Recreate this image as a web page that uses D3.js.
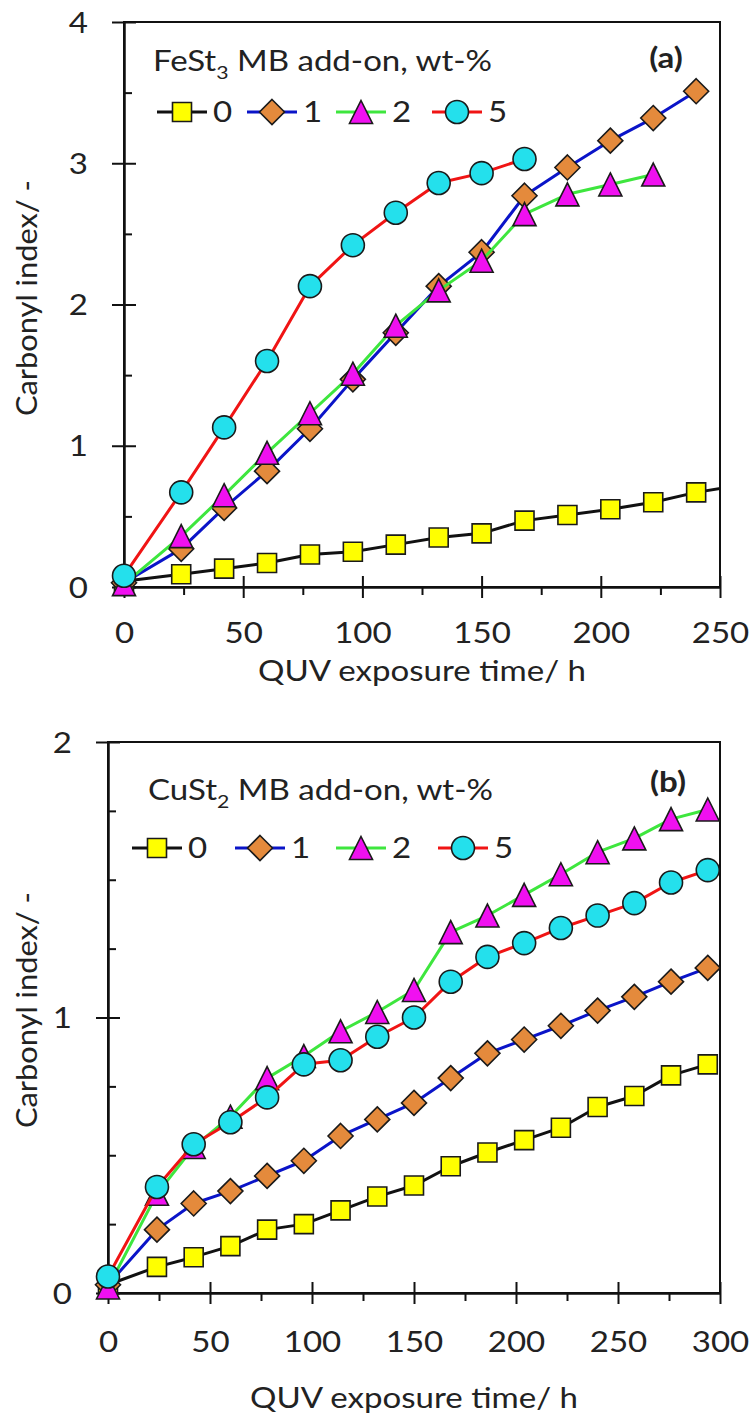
<!DOCTYPE html>
<html>
<head>
<meta charset="utf-8">
<script src="https://cdn.jsdelivr.net/npm/d3@7"></script>
<style>
  body { margin: 0; background: #fff; }
  svg text { font-family: Lato, "Open Sans", sans-serif; fill: #222; }
</style>
</head>
<body>
<svg id="chart" width="754" height="1416"></svg>
<script>
// panel (a): FeSt3 masterbatch
let feTime = [0, 24, 42, 60, 78, 96, 114, 132, 150, 168, 186, 204, 222, 240, 258];
let fe0 = [0.04, 0.09, 0.13, 0.17, 0.23, 0.25, 0.30, 0.35, 0.38, 0.47, 0.51, 0.55, 0.60, 0.67, 0.72];
let fe1 = [0.03, 0.27, 0.56, 0.82, 1.12, 1.47, 1.80, 2.13, 2.37, 2.77, 2.97, 3.16, 3.32, 3.51];
let fe2 = [0.02, 0.36, 0.65, 0.95, 1.23, 1.51, 1.85, 2.10, 2.31, 2.64, 2.78, 2.85, 2.92];
let fe5 = [0.08, 0.67, 1.13, 1.60, 2.13, 2.42, 2.65, 2.86, 2.93, 3.03];

// panel (b): CuSt2 masterbatch
let cuTime = [0, 24, 42, 60, 78, 96, 114, 132, 150, 168, 186, 204, 222, 240, 258, 276, 294];
let cu0 = [0.03, 0.095, 0.13, 0.17, 0.23, 0.25, 0.30, 0.35, 0.39, 0.46, 0.51, 0.555, 0.60, 0.675, 0.715, 0.79, 0.83];
let cu1 = [0.03, 0.23, 0.325, 0.37, 0.425, 0.48, 0.57, 0.63, 0.69, 0.78, 0.87, 0.92, 0.97, 1.025, 1.075, 1.13, 1.18];
let cu2 = [0.02, 0.36, 0.53, 0.64, 0.78, 0.86, 0.95, 1.02, 1.10, 1.31, 1.37, 1.445, 1.52, 1.60, 1.65, 1.72, 1.755];
let cu5 = [0.06, 0.385, 0.54, 0.62, 0.71, 0.83, 0.845, 0.93, 1.00, 1.13, 1.22, 1.27, 1.325, 1.37, 1.415, 1.49, 1.535];

let seriesNames = ['0', '1', '2', '5'];
let feTicksX = [0, 50, 100, 150, 200, 250];
let feTicksY = [0, 1, 2, 3, 4];
let cuTicksX = [0, 50, 100, 150, 200, 250, 300];
let cuTicksY = [0, 1, 2];

let lineColors = ['#111111', '#0a14c8', '#3ee63e', '#f01414'];
let fillColors = ['#ffff00', '#e48a3c', '#f010f0', '#24e0ec'];
let shapes = ['square', 'diamond', 'triangle', 'circle'];

let SX = 1.18;   // reference text is a bit wider than Lato
let FS = 28;

let svg = d3.select('#chart');

let markerPath = (shape) => {
  if (shape === 'square') return 'M-9.5,-9.5H9.5V9.5H-9.5Z';
  if (shape === 'diamond') return 'M0,-12.5L12.5,0L0,12.5L-12.5,0Z';
  if (shape === 'triangle') return 'M0,-11.5L11.5,11.5L-11.5,11.5Z';
  return d3.symbol(d3.symbolCircle, Math.PI * 11.5 * 11.5)();
};

let addText = (g, x, y, str, anchor, size, weight) => {
  return g.append('text')
    .attr('transform', `translate(${x},${y}) scale(${SX},1)`)
    .attr('text-anchor', anchor || 'start')
    .style('font-size', (size || FS) + 'px')
    .style('font-weight', weight || 'normal')
    .text(str);
};

let drawPanel = (cfg) => {
  let g = svg.append('g');
  let xScale = d3.scaleLinear().domain(cfg.xDomain).range([cfg.left, cfg.right]);
  let yScale = d3.scaleLinear().domain(cfg.yDomain).range([cfg.bottom, cfg.top]);

  // frame
  g.append('rect')
    .attr('x', cfg.left).attr('y', cfg.top)
    .attr('width', cfg.right - cfg.left).attr('height', cfg.bottom - cfg.top)
    .attr('fill', 'none').attr('stroke', '#111').attr('stroke-width', 2);

  // minor ticks
  let xMinor = d3.range(cfg.xDomain[0], cfg.xDomain[1] + 0.01, cfg.xMinorStep).filter(v => !cfg.xTicks.includes(v));
  let yMinor = d3.range(cfg.yDomain[0], cfg.yDomain[1] + 0.001, cfg.yMinorStep).filter(v => !cfg.yTicks.includes(v));

  g.append('g')
    .attr('transform', `translate(0,${cfg.bottom})`)
    .call(d3.axisBottom(xScale).tickValues(xMinor).tickSize(8).tickFormat(''))
    .call(a => a.select('.domain').remove());
  g.append('g')
    .attr('transform', `translate(${cfg.left},0)`)
    .call(d3.axisLeft(yScale).tickValues(yMinor).tickSize(-8).tickFormat(''))
    .call(a => a.select('.domain').remove());

  // major ticks, inner half
  g.append('g')
    .attr('transform', `translate(0,${cfg.bottom})`)
    .call(d3.axisBottom(xScale).tickValues(cfg.xTicks).tickSize(-11).tickFormat(''))
    .call(a => a.select('.domain').remove());
  g.append('g')
    .attr('transform', `translate(${cfg.left},0)`)
    .call(d3.axisLeft(yScale).tickValues(cfg.yTicks).tickSize(-12).tickFormat(''))
    .call(a => a.select('.domain').remove());

  // main axes with labels
  let xAxisG = g.append('g')
    .attr('transform', `translate(0,${cfg.bottom})`)
    .call(d3.axisBottom(xScale).tickValues(cfg.xTicks).tickSize(11).tickSizeOuter(0).tickFormat(d3.format('d')));
  xAxisG.selectAll('text')
    .attr('y', cfg.xLabelOffset).attr('dy', 0)
    .attr('transform', `scale(${SX},1)`)
    .style('font-size', FS + 'px');

  let yAxisG = g.append('g')
    .attr('transform', `translate(${cfg.left},0)`)
    .call(d3.axisLeft(yScale).tickValues(cfg.yTicks).tickSize(12).tickSizeOuter(0).tickFormat(d3.format('d')));
  yAxisG.selectAll('text')
    .attr('x', -36 / SX).attr('dy', '0.36em')
    .attr('transform', `scale(${SX},1)`)
    .style('font-size', FS + 'px');

  g.selectAll('.tick line').attr('stroke', '#111').attr('stroke-width', 2);
  g.selectAll('.domain').attr('stroke', '#111').attr('stroke-width', 2.5);

  // axis titles
  addText(g, (cfg.left + cfg.right) / 2, cfg.xTitleY, 'QUV exposure time/ h', 'middle');
  g.append('text')
    .attr('transform', `translate(37,${cfg.yTitleY}) rotate(-90) scale(1.1,1)`)
    .attr('text-anchor', 'middle')
    .style('font-size', FS + 'px')
    .text('Carbonyl index/ -');

  // series
  let clipId = 'clip-' + cfg.id;
  svg.append('clipPath').attr('id', clipId)
    .append('rect')
    .attr('x', cfg.left - 30).attr('y', cfg.top - 30)
    .attr('width', cfg.right - cfg.left + 30).attr('height', cfg.bottom - cfg.top + 60);

  let plot = g.append('g').attr('clip-path', `url(#${clipId})`);
  let line = d3.line().x(d => xScale(d[0])).y(d => yScale(d[1]));

  cfg.series.forEach((vals, i) => {
    let pts = vals.map((v, k) => [cfg.time[k], v]);
    plot.append('path')
      .datum(pts)
      .attr('d', line)
      .attr('fill', 'none')
      .attr('stroke', lineColors[i])
      .attr('stroke-width', 3)
      .attr('stroke-linejoin', 'round');
    plot.selectAll('.m' + i)
      .data(pts)
      .enter()
      .append('path')
      .attr('class', 'm' + i)
      .attr('d', markerPath(shapes[i]))
      .attr('transform', d => `translate(${xScale(d[0])},${yScale(d[1])})`)
      .attr('fill', fillColors[i])
      .attr('stroke', '#1a1a1a')
      .attr('stroke-width', 1.6);
  });

  // legend
  let title = g.append('text')
    .attr('transform', `translate(${cfg.legTitleX},${cfg.legTitleY}) scale(${SX},1)`)
    .style('font-size', FS + 'px');
  title.append('tspan').text(cfg.metal[0]);
  title.append('tspan').text(cfg.metal[1]).attr('dy', 8).style('font-size', '18px');
  title.append('tspan').text(' MB add-on, wt-%').attr('dy', -8);

  addText(g, cfg.tagX, cfg.tagY, cfg.tag, 'middle', FS, 'bold');

  seriesNames.forEach((name, i) => {
    let cx = cfg.legCenters[i];
    let cy = cfg.legY;
    g.append('line')
      .attr('x1', cx - 25).attr('x2', cx + 25)
      .attr('y1', cy).attr('y2', cy)
      .attr('stroke', lineColors[i]).attr('stroke-width', 3);
    g.append('path')
      .attr('d', markerPath(shapes[i]))
      .attr('transform', `translate(${cx},${cy})`)
      .attr('fill', fillColors[i])
      .attr('stroke', '#1a1a1a')
      .attr('stroke-width', 1.6);
    addText(g, cx + 31, cy + 10, name, 'start');
  });
};

drawPanel({
  id: 'a', left: 124, right: 720, top: 22, bottom: 587,
  xDomain: [0, 250], yDomain: [0, 4], xTicks: feTicksX, yTicks: feTicksY,
  xMinorStep: 25, yMinorStep: 0.5,
  time: feTime, series: [fe0, fe1, fe2, fe5],
  xLabelOffset: 56, xTitleY: 681, yTitleY: 298,
  metal: ['FeSt', '3'], legTitleX: 153, legTitleY: 71,
  legCenters: [182, 272, 361, 457], legY: 112,
  tag: '(a)', tagX: 666, tagY: 68
});

drawPanel({
  id: 'b', left: 108, right: 720, top: 742, bottom: 1293,
  xDomain: [0, 300], yDomain: [0, 2], xTicks: cuTicksX, yTicks: cuTicksY,
  xMinorStep: 25, yMinorStep: 0.25,
  time: cuTime, series: [cu0, cu1, cu2, cu5],
  xLabelOffset: 59, xTitleY: 1408, yTitleY: 1010,
  metal: ['CuSt', '2'], legTitleX: 148, legTitleY: 800,
  legCenters: [157, 260, 361, 463], legY: 848,
  tag: '(b)', tagX: 668, tagY: 792
});
</script>
</body>
</html>
